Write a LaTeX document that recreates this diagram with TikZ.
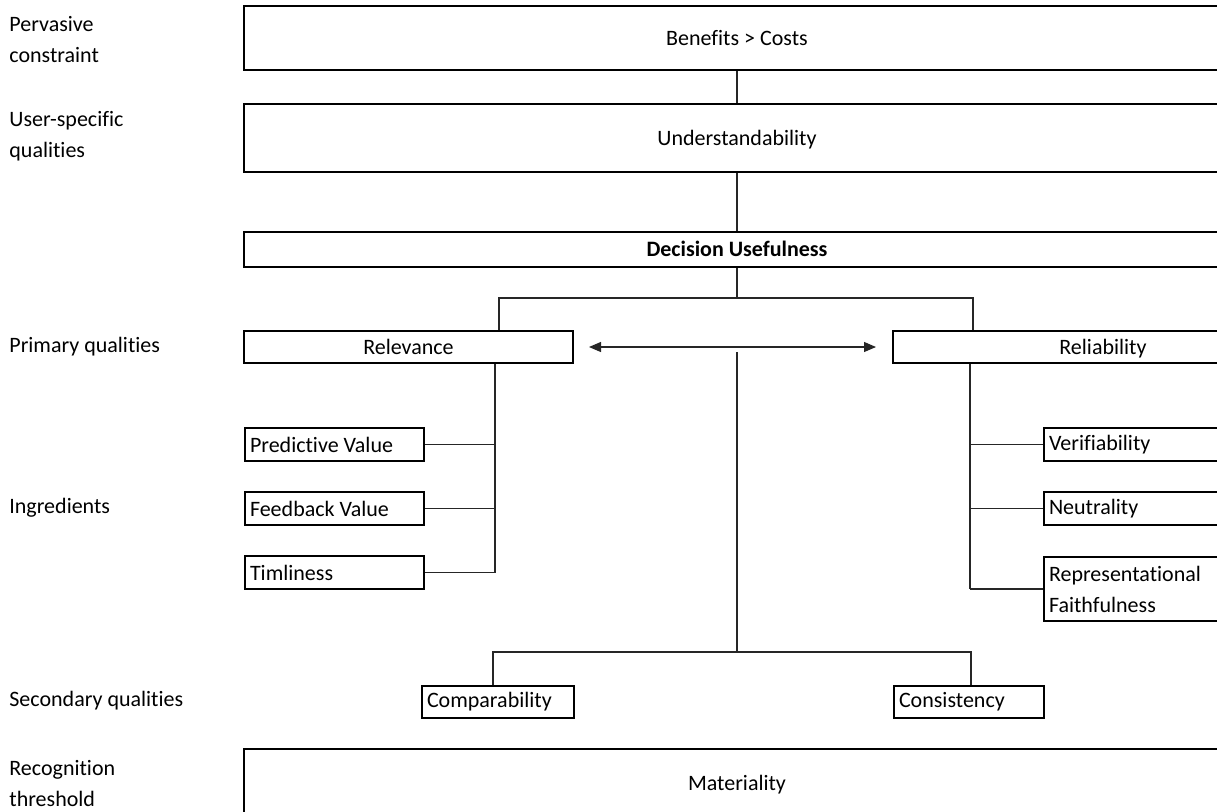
\documentclass[tikz,border=0pt]{standalone}
\usepackage{fontspec}
\setmainfont{Carlito}[Ligatures=NoCommon]
\usetikzlibrary{arrows.meta}
\tikzset{
  bar/.style={draw, line width=1pt, minimum width=493pt, inner sep=0pt,
    text height=9pt, text depth=2pt},
  ingbox/.style={draw, line width=1pt, anchor=north west, align=flush left,
    inner xsep=2.5pt, inner ysep=0pt, minimum height=16.5pt},
  lab/.style={anchor=west, align=flush left, inner sep=0pt},
  wire/.style={line width=0.6pt, draw=black!85},
}
\begin{document}
\begin{tikzpicture}[x=0.5pt, y=-0.5pt, font={\fontsize{11}{15.5}\selectfont}]
  \useasboundingbox (0,0) rectangle (1217,811);
  \clip (0,0) rectangle (1217,811);
  % row labels
  \node[lab] (l1) at (9,39.5) {Pervasive\\constraint};
  \node[lab] (l2) at (9,136) {User-specific\\qualities};
  \node[lab] (l3) at (9,347) {Primary qualities};
  \node[lab] (l4) at (9,508) {Ingredients};
  \node[lab] (l5) at (9,701) {Secondary qualities};
  \node[lab] (l6) at (9,783.5) {Recognition\\threshold};
  % wide boxes
  \node[bar, minimum height=32pt] (bc) at (737,38) {Benefits > Costs};
  \node[bar, minimum height=34pt] (und) at (737,138) {Understandability};
  \node[bar, minimum height=17.5pt, font={\fontsize{11}{15.5}\selectfont\bfseries}] (du) at (737,249.5) {Decision Usefulness};
  \node[bar, minimum height=34pt] (mat) at (737,783) {Materiality};
  % primary qualities
  \node[bar, minimum width=164.5pt, minimum height=16pt] (relv) at (408.5,347) {Relevance};
  \node[bar, minimum width=210pt, minimum height=16pt] (relb) at (1103,347) {Reliability};
  % ingredients
  \node[ingbox, text width=84.5pt] (pv) at (244,427) {Predictive Value};
  \node[ingbox, text width=84.5pt] (fv) at (244,491) {Feedback Value};
  \node[ingbox, text width=84.5pt] (tl) at (244,555) {Timliness};
  \node[ingbox, text width=90pt] (vf) at (1043,427) {Verifiability};
  \node[ingbox, text width=90pt] (nt) at (1043,491) {Neutrality};
  \node[ingbox, text width=90pt, minimum height=32pt] (rf) at (1043,556) {Representational\\Faithfulness};
  % secondary qualities
  \node[ingbox, text width=71pt, minimum height=16pt] (comp) at (421,685) {Comparability};
  \node[ingbox, text width=70pt, minimum height=16pt] (cons) at (893,685) {Consistency};
  % connectors
  \coordinate (fork) at (737,298);
  \coordinate (forkL) at (499,298);
  \coordinate (forkR) at (973,298);
  \coordinate (hub) at (737,352);
  \coordinate (hubB) at (737,652);
  \coordinate (secL) at (493,652);
  \coordinate (secR) at (971,652);
  \coordinate (railL) at (495,0);
  \coordinate (railR) at (970,0);
  \draw[wire] (bc.south) -- (und.north);
  \draw[wire] (und.south) -- (du.north);
  \draw[wire] (du.south) -- (fork);
  \draw[wire] (relv.north -| forkL) |- (forkR) -- (relb.north -| forkR);
  \draw[wire, {Triangle[length=6pt,width=5pt]}-{Triangle[length=6pt,width=5pt]}]
    ([xshift=7.5pt]relv.east) -- ([xshift=-8pt]relb.west);
  \draw[wire] (hub) -- (hubB);
  \draw[wire] (comp.north -| secL) |- (secR) -- (cons.north -| secR);
  \draw[wire] (relv.south -| railL) -- (tl.east -| railL);
  \foreach \n in {pv,fv,tl}
    \draw[wire] (\n.east) -- (\n.east -| railL);
  \draw[wire] (relb.south -| railR) -- (rf.west -| railR);
  \foreach \n in {vf,nt,rf}
    \draw[wire] (\n.west) -- (\n.west -| railR);
\end{tikzpicture}
\end{document}
